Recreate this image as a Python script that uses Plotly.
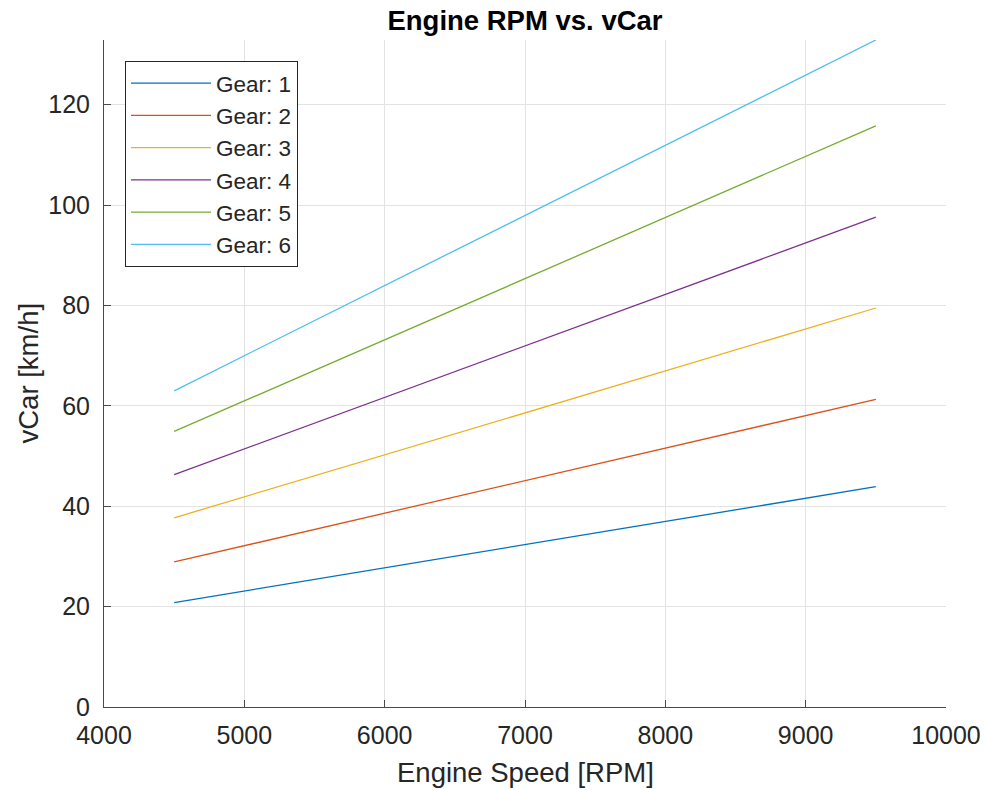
import plotly.graph_objects as go

rpm = [4500, 9500]
gear_names = ["Gear: 1", "Gear: 2", "Gear: 3", "Gear: 4", "Gear: 5", "Gear: 6"]
vcar_gear1 = [20.8, 43.9]
vcar_gear2 = [28.9, 61.3]
vcar_gear3 = [37.7, 79.5]
vcar_gear4 = [46.3, 97.6]
vcar_gear5 = [54.9, 115.8]
vcar_gear6 = [63.0, 132.9]
series = [vcar_gear1, vcar_gear2, vcar_gear3, vcar_gear4, vcar_gear5, vcar_gear6]
colors = ["#0072BD", "#D95319", "#EDB120", "#7E2F8E", "#77AC30", "#4DBEEE"]

fig = go.Figure()
for i, (name, vals) in enumerate(zip(gear_names, series)):
    fig.add_trace(go.Scatter(x=rpm, y=vals, mode="lines", name=name,
                             legendgroup=name,
                             line=dict(color=colors[i], width=1.3)))

W, H = 985, 790
L, R, T, B = 104, 39, 40, 83
pw, ph = W - L - R, H - T - B

font_family = "Liberation Sans, Arial, sans-serif"
axis_color = "#262626"
line_color = "#4a4a4a"
fig.update_layout(
    width=W, height=H,
    margin=dict(l=L, r=R, t=T, b=B),
    paper_bgcolor="white", plot_bgcolor="white",
    font=dict(family=font_family, size=25, color=axis_color),
    title=dict(text="<b>Engine RPM vs. vCar</b>", x=(L + W - R) / 2 / W, xanchor="center",
               y=1 - 20 / H, yanchor="middle", font=dict(size=27.5, color="black")),
    showlegend=True,
    legend=dict(x=(125 - L) / pw, y=1 - (61 - T) / ph, xanchor="left", yanchor="top",
                bgcolor="white", bordercolor=axis_color, borderwidth=1,
                font=dict(size=22.5, color=axis_color),
                traceorder="grouped", tracegroupgap=0, itemwidth=80),
    annotations=[
        dict(text="Engine Speed [RPM]", xref="paper", yref="paper", x=0.5,
             y=-(772 - (H - B)) / ph, xanchor="center", yanchor="middle",
             showarrow=False, font=dict(size=27.5, color=axis_color)),
        dict(text="vCar [km/h]", xref="paper", yref="paper", x=-(L - 28) / pw,
             y=0.5, xanchor="center", yanchor="middle", textangle=-90,
             showarrow=False, font=dict(size=27.5, color=axis_color)),
    ],
)
fig.update_xaxes(range=[4000, 10000], dtick=1000, tick0=4000, tickformat="d",
                 automargin=False,
                 showgrid=True, gridcolor="#e3e3e3", gridwidth=1,
                 showline=True, linecolor=line_color, linewidth=1,
                 ticks="inside", ticklen=7, tickcolor=line_color,
                 ticklabelstandoff=6,
                 tickfont=dict(size=25, color=axis_color), zeroline=False)
fig.update_yaxes(range=[0, 132.9], dtick=20, tick0=0,
                 automargin=False,
                 showgrid=True, gridcolor="#e3e3e3", gridwidth=1,
                 showline=True, linecolor=line_color, linewidth=1,
                 ticks="inside", ticklen=7, tickcolor=line_color,
                 ticklabelstandoff=8,
                 tickfont=dict(size=25, color=axis_color), zeroline=False)

fig.write_html("out.html")
